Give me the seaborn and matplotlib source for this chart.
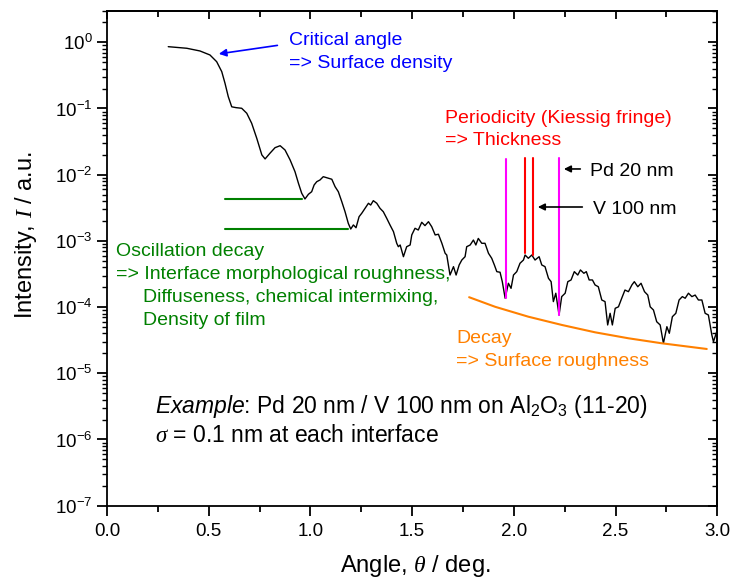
import numpy as np
import pandas as pd
import matplotlib
matplotlib.use("Agg")
import matplotlib.pyplot as plt
import seaborn as sns
from matplotlib.ticker import MultipleLocator, LogLocator, NullFormatter

# ---------------- data ----------------
angle = [0.301, 0.392, 0.457, 0.506, 0.539, 0.564, 0.580, 0.596, 0.613, 0.634,
         0.662, 0.687, 0.711, 0.736, 0.761, 0.777, 0.801, 0.826, 0.851, 0.875,
         0.900, 0.924, 0.941, 0.957, 0.973, 0.990, 1.006, 1.018, 1.031, 1.047,
         1.063, 1.080, 1.105, 1.121, 1.137, 1.154, 1.170, 1.186, 1.198, 1.211,
         1.224, 1.239, 1.252, 1.268, 1.285, 1.296, 1.309, 1.326, 1.342, 1.358,
         1.375, 1.391, 1.408, 1.424, 1.432, 1.441, 1.457, 1.473, 1.490, 1.498,
         1.514, 1.530, 1.547, 1.563, 1.580, 1.596, 1.613, 1.629, 1.646, 1.662,
         1.670, 1.686, 1.703, 1.716, 1.731, 1.744, 1.760, 1.768, 1.785, 1.801,
         1.813, 1.825, 1.842, 1.858, 1.875, 1.891, 1.904, 1.916, 1.932, 1.943,
         1.957, 1.973, 1.986, 1.998, 2.014, 2.030, 2.047, 2.055, 2.071, 2.088,
         2.104, 2.124, 2.137, 2.153, 2.170, 2.183, 2.194, 2.206, 2.222, 2.235,
         2.252, 2.265, 2.281, 2.297, 2.314, 2.327, 2.344, 2.356, 2.370, 2.386,
         2.399, 2.415, 2.432, 2.448, 2.461, 2.473, 2.484, 2.498, 2.514, 2.530,
         2.546, 2.563, 2.580, 2.592, 2.609, 2.625, 2.642, 2.658, 2.670, 2.686,
         2.702, 2.719, 2.735, 2.752, 2.764, 2.779, 2.796, 2.812, 2.828, 2.842,
         2.858, 2.875, 2.891, 2.907, 2.924, 2.940, 2.956, 2.973, 2.981, 2.997]
intensity = [0.858, 0.812, 0.739, 0.643, 0.509, 0.360, 0.240, 0.151, 0.106, 0.103,
             0.1007, 0.0846, 0.0598, 0.0355, 0.0199, 0.0173, 0.0211, 0.0256, 0.0274, 0.0236,
             0.0167, 0.0111, 7.41e-3, 5.24e-3, 4.30e-3, 5.06e-3, 5.53e-3, 6.99e-3, 7.84e-3, 8.32e-3,
             9.33e-3, 9.01e-3, 8.53e-3, 6.59e-3, 5.53e-3, 3.91e-3, 2.76e-3, 1.84e-3, 1.51e-3, 1.74e-3,
             1.58e-3, 2.32e-3, 2.61e-3, 3.10e-3, 3.70e-3, 3.48e-3, 4.05e-3, 3.70e-3, 3.10e-3, 2.76e-3,
             2.19e-3, 1.74e-3, 1.38e-3, 9.20e-4, 8.17e-4, 8.67e-4, 5.77e-4, 8.17e-4, 8.67e-4, 1.23e-3,
             1.55e-3, 1.46e-3, 1.91e-3, 1.70e-3, 1.95e-3, 1.64e-3, 1.23e-3, 1.26e-3, 9.20e-4, 6.50e-4,
             6.12e-4, 3.05e-4, 4.08e-4, 3.05e-4, 4.33e-4, 5.14e-4, 5.77e-4, 8.17e-4, 8.67e-4, 1.03e-3,
             8.67e-4, 1.09e-3, 9.20e-4, 9.20e-4, 6.50e-4, 5.46e-4, 4.33e-4, 3.43e-4, 3.36e-4, 2.42e-4,
             1.36e-4, 2.29e-4, 1.92e-4, 3.05e-4, 3.43e-4, 4.59e-4, 5.14e-4, 6.12e-4, 5.46e-4, 6.12e-4,
             5.14e-4, 5.77e-4, 4.33e-4, 4.08e-4, 2.72e-4, 2.42e-4, 1.21e-4, 1.62e-4, 7.60e-5, 1.44e-4,
             1.62e-4, 2.42e-4, 2.57e-4, 3.43e-4, 3.05e-4, 3.64e-4, 3.24e-4, 3.43e-4, 2.57e-4, 2.57e-4,
             2.16e-4, 2.03e-4, 1.28e-4, 1.21e-4, 5.37e-5, 8.06e-5, 5.37e-5, 9.59e-5, 1.01e-4, 1.36e-4,
             1.81e-4, 1.71e-4, 2.16e-4, 2.42e-4, 2.03e-4, 2.29e-4, 1.71e-4, 1.52e-4, 1.01e-4, 9.04e-5,
             6.01e-5, 5.37e-5, 2.84e-5, 5.06e-5, 4.02e-5, 7.16e-5, 8.06e-5, 1.28e-4, 1.44e-4, 1.36e-4,
             1.62e-4, 1.44e-4, 1.52e-4, 1.28e-4, 1.28e-4, 8.06e-5, 7.60e-5, 3.79e-5, 3.00e-5, 4.25e-5]

decay_angle = [1.780, 1.908, 2.071, 2.236, 2.399, 2.563, 2.727, 2.948]
decay_intensity = [1.41e-4, 1.01e-4, 7.16e-5, 5.37e-5, 4.16e-5, 3.38e-5, 2.84e-5, 2.33e-5]

# marker lines (angle, intensity ranges)
pd_lines_x = [1.962, 2.222]
pd_lines_top = [0.0173, 0.0179]
pd_lines_bottom = [1.37e-4, 7.6e-5]
v_lines_x = [2.055, 2.094]
v_lines_top = [0.0179, 0.0179]
v_lines_bottom = [6.56e-4, 6.12e-4]
decay_levels = [4.30e-3, 1.50e-3]
decay_levels_start = [0.580, 0.580]
decay_levels_end = [0.957, 1.186]

df = pd.DataFrame({"angle": angle, "intensity": intensity})
df_decay = pd.DataFrame({"angle": decay_angle, "intensity": decay_intensity})

# ---------------- style ----------------
sns.set_theme(style="ticks")
plt.rcParams['font.family'] = ['Liberation Sans', 'DejaVu Sans']
plt.rcParams['mathtext.fontset'] = 'custom'
plt.rcParams['mathtext.rm'] = 'Liberation Sans'
plt.rcParams['mathtext.it'] = 'Liberation Serif:italic'
plt.rcParams['mathtext.sf'] = 'Liberation Sans:italic'
plt.rcParams['axes.linewidth'] = 1.3
for k in ['text.color', 'axes.labelcolor', 'xtick.color', 'ytick.color',
          'axes.edgecolor', 'xtick.labelcolor', 'ytick.labelcolor']:
    plt.rcParams[k] = 'black'

fig = plt.figure(figsize=(7.31, 5.81), dpi=100)
ax = fig.add_axes([0.1464, 0.1296, 0.8349, 0.852])
ax.set_yscale('log')

sns.lineplot(data=df, x="angle", y="intensity", color="black", lw=1.0,
             estimator=None, sort=False, ax=ax)
sns.lineplot(data=df_decay, x="angle", y="intensity", color="#FF8000", lw=1.5,
             estimator=None, sort=False, ax=ax)

for x, t, b in zip(pd_lines_x, pd_lines_top, pd_lines_bottom):
    ax.plot([x, x], [b, t], color="#FF00FF", lw=1.5)
for x, t, b in zip(v_lines_x, v_lines_top, v_lines_bottom):
    ax.plot([x, x], [b, t], color="#FF0000", lw=1.5)
for y, x0, x1 in zip(decay_levels, decay_levels_start, decay_levels_end):
    ax.plot([x0, x1], [y, y], color="#008000", lw=1.5)

ax.set_xlim(0, 3)
ax.set_ylim(1e-7, 3)

ax.xaxis.set_major_locator(MultipleLocator(0.5))
ax.xaxis.set_minor_locator(MultipleLocator(0.25))
ax.yaxis.set_major_locator(LogLocator(base=10, numticks=20))
ax.yaxis.set_minor_locator(LogLocator(base=10, subs=np.arange(2, 10), numticks=20))
ax.yaxis.set_minor_formatter(NullFormatter())

ax.tick_params(axis='x', which='major', direction='out', length=7.5, width=1.3,
               labelsize=13.5, pad=5)
ax.tick_params(axis='x', which='minor', direction='out', length=4.5, width=1.3)
ax.tick_params(axis='y', which='major', direction='out', length=7.5, width=1.3,
               labelsize=13.5, pad=3)
ax.tick_params(axis='y', which='minor', direction='out', length=3.5, width=1.0)

secx = ax.secondary_xaxis('top')
secx.xaxis.set_major_locator(MultipleLocator(0.5))
secx.xaxis.set_minor_locator(MultipleLocator(0.25))
secx.tick_params(which='major', direction='in', length=5.5, width=1.3, labeltop=False)
secx.tick_params(which='minor', direction='in', length=4.5, width=1.3, labeltop=False)
secy = ax.secondary_yaxis('right')
secy.yaxis.set_major_locator(LogLocator(base=10, numticks=20))
secy.yaxis.set_minor_locator(LogLocator(base=10, subs=np.arange(2, 10), numticks=20))
secy.tick_params(which='major', direction='in', length=6.5, width=1.3, labelright=False)
secy.tick_params(which='minor', direction='in', length=3.5, width=1.0, labelright=False)
secy.yaxis.set_minor_formatter(NullFormatter())

ax.set_xlabel(r"Angle, $\mathit{\theta}$ / deg.", fontsize=17)
ax.set_ylabel(r"Intensity, $\mathit{I}$ / a.u.", fontsize=17)
ax.xaxis.set_label_coords(0.505, -0.095)
ax.yaxis.set_label_coords(-0.112, 0.547)

fs = 14
ax.text(0.895, 0.910, "Critical angle", color="#0000FF", fontsize=fs, va='baseline')
ax.text(0.895, 0.405, "=> Surface density", color="#0000FF", fontsize=fs, va='baseline')
ax.annotate("", xy=(0.536, 0.659), xytext=(0.851, 0.91),
            arrowprops=dict(arrowstyle='-|>', color="#0000FF", lw=1.2, mutation_scale=11))

ax.text(1.662, 0.0598, "Periodicity (Kiessig fringe)", color="#FF0000", fontsize=fs, va='baseline')
ax.text(1.662, 0.0281, "=> Thickness", color="#FF0000", fontsize=fs, va='baseline')
ax.text(2.375, 9.55e-3, "Pd 20 nm", color="black", fontsize=fs, va='baseline')
ax.text(2.388, 2.55e-3, "V 100 nm", color="black", fontsize=fs, va='baseline')
ax.annotate("", xy=(2.232, 0.0122), xytext=(2.340, 0.0122),
            arrowprops=dict(arrowstyle='-|>', color="black", lw=1.2, mutation_scale=10))
ax.annotate("", xy=(2.104, 3.25e-3), xytext=(2.350, 3.25e-3),
            arrowprops=dict(arrowstyle='-|>', color="black", lw=1.2, mutation_scale=10))

green = "#008000"
ax.text(0.044, 5.91e-4, "Oscillation decay", color=green, fontsize=fs, va='baseline')
ax.text(0.044, 2.66e-4, "=> Interface morphological roughness,", color=green, fontsize=fs, va='baseline')
ax.text(0.178, 1.19e-4, "Diffuseness, chemical intermixing,", color=green, fontsize=fs, va='baseline')
ax.text(0.178, 5.37e-5, "Density of film", color=green, fontsize=fs, va='baseline')

orange = "#FF8000"
ax.text(1.716, 2.84e-5, "Decay", color=orange, fontsize=fs, va='baseline')
ax.text(1.716, 1.29e-5, "=> Surface roughness", color=orange, fontsize=fs, va='baseline')

ax.text(0.236, 2.51e-6, r"$\mathsf{Example}$: Pd 20 nm / V 100 nm on Al$_2$O$_3$ (11-20)",
        color="black", fontsize=16.5, va='baseline')
ax.text(0.236, 9.16e-7, r"$\mathit{\sigma}$ = 0.1 nm at each interface",
        color="black", fontsize=16.5, va='baseline')

fig.savefig("out.png", dpi=100)
